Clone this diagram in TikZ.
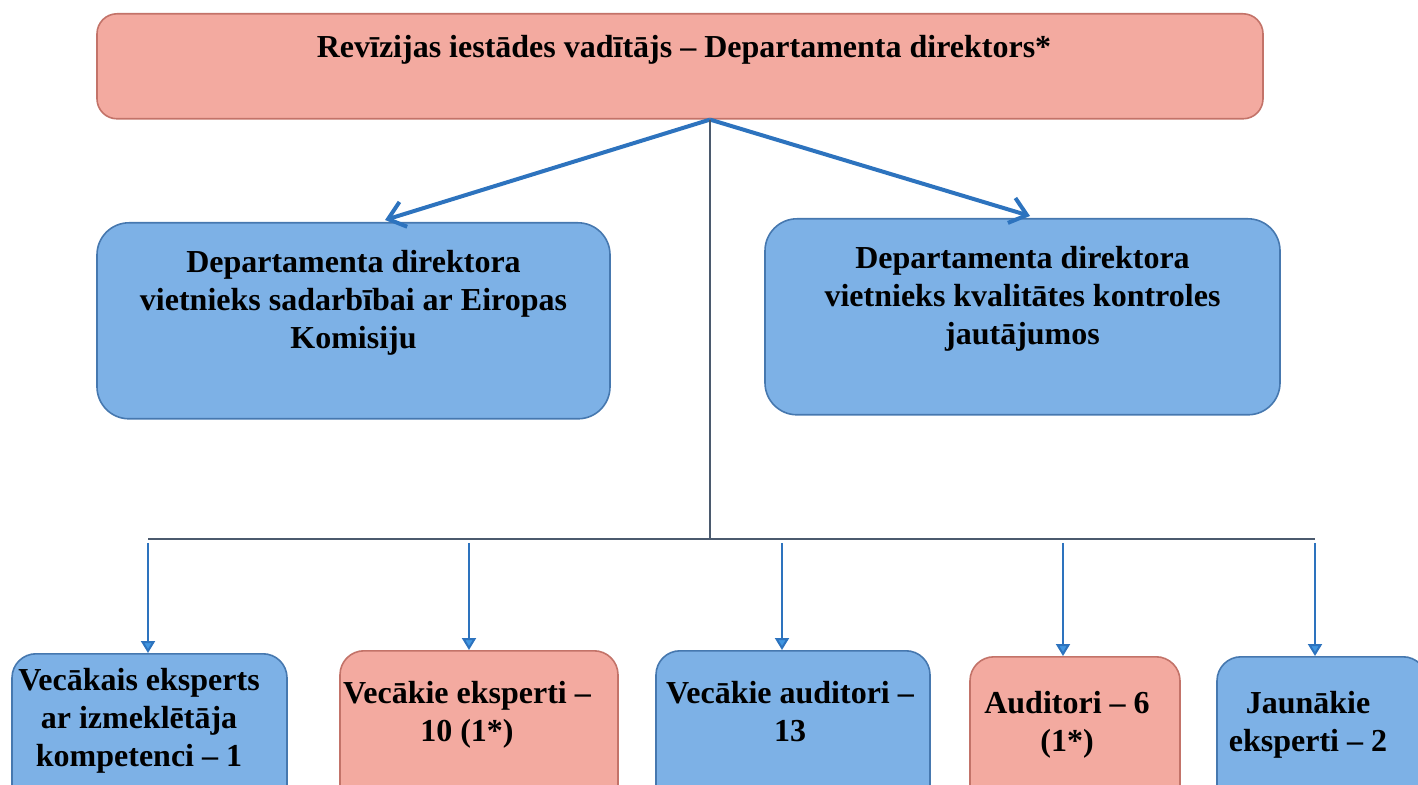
\documentclass[tikz,border=0pt]{standalone}
\usepackage{fontspec}
\setmainfont{Liberation Serif}
\usetikzlibrary{arrows.meta}

\definecolor{salmon}{RGB}{243,170,160}
\definecolor{salmonline}{RGB}{195,115,105}
\definecolor{skyblue}{RGB}{125,177,230}
\definecolor{skyline}{RGB}{70,120,175}
\definecolor{arrowblue}{RGB}{45,115,190}
\definecolor{tipblue}{RGB}{65,150,225}
\definecolor{busgray}{RGB}{75,90,110}

\tikzset{
  redbox/.style={draw=salmonline, fill=salmon, line width=0.8pt, rounded corners=10pt},
  bluebox/.style={draw=skyline, fill=skyblue, line width=0.8pt, rounded corners=16pt},
  boxtext/.style={align=center, font=\fontsize{16}{19}\selectfont\bfseries, inner sep=0pt},
  mainarrow/.style={draw=arrowblue, line width=2pt, -{Straight Barb[length=8pt,width=13pt]}},
  busline/.style={draw=busgray, line width=0.8pt},
  busarrow/.style={draw=arrowblue, line width=1pt, -{Triangle[length=6pt,width=7pt,fill=tipblue]}}
}

\begin{document}
\begin{tikzpicture}[x=0.5pt, y=-0.5pt]
	\useasboundingbox (0,0) rectangle (1418,785);
	\clip (0,0) rectangle (1418,785);

	% head of the department
	\node[redbox, minimum width=583pt, minimum height=52.5pt, anchor=north] (head) at (680,13) {};
	\node[boxtext] (headt) at (684,50) {Revīzijas iestādes vadītājs – Departamenta direktors*};

	% deputies
	\node[bluebox, minimum width=256.5pt, minimum height=98pt, anchor=north] (dep1) at (353.5,222) {};
	\node[boxtext] (dep1t) at (353.5,303) {Departamenta direktora\\vietnieks sadarbībai ar Eiropas\\Komisiju};
	\node[bluebox, minimum width=257.5pt, minimum height=98pt, anchor=north] (dep2) at (1022.5,218) {};
	\node[boxtext] (dep2t) at (1022.5,299) {Departamenta direktora\\vietnieks kvalitātes kontroles\\jautājumos};

	% staff
	\node[bluebox, rounded corners=12pt, minimum width=137.5pt, minimum height=90pt, anchor=north] (st1) at (149.5,653) {};
	\node[boxtext] (st1t) at (139,721) {Vecākais eksperts\\ar izmeklētāja\\kompetenci – 1};
	\node[redbox, rounded corners=12pt, minimum width=139pt, minimum height=90pt, anchor=north] (st2) at (479,650) {};
	\node[boxtext] (st2t) at (467,715) {Vecākie eksperti –\\10 (1*)};
	\node[bluebox, rounded corners=12pt, minimum width=137pt, minimum height=90pt, anchor=north] (st3) at (793,650) {};
	\node[boxtext] (st3t) at (790,712) {Vecākie auditori –\\13};
	\node[redbox, rounded corners=12pt, minimum width=105pt, minimum height=90pt, anchor=north] (st4) at (1075,656) {};
	\node[boxtext] (st4t) at (1067,725) {Auditori – 6\\(1*)};
	\node[bluebox, rounded corners=12pt, minimum width=105pt, minimum height=90pt, anchor=north] (st5) at (1322,656) {};
	\node[boxtext] (st5t) at (1308,725) {Jaunākie\\eksperti – 2};

	% connectors
	\coordinate (fork) at ([xshift=15pt]head.south);
	\coordinate (bus) at (710,539);
	\draw[mainarrow] (fork) -- ([xshift=15.75pt,yshift=1pt]dep1.north);
	\draw[mainarrow] (fork) -- ([xshift=3.75pt,yshift=1pt]dep2.north);
	\draw[busline] (fork) -- (bus);
	\foreach \i/\x in {1/148, 2/469, 3/782, 4/1063, 5/1315}
		\coordinate (a\i) at (\x,539);
	\draw[busline] (a1) -- (a5);
	\foreach \i in {1,...,5}
		\draw[busarrow] ([yshift=-2pt]a\i) -- (a\i |- st\i.north);
\end{tikzpicture}
\end{document}
